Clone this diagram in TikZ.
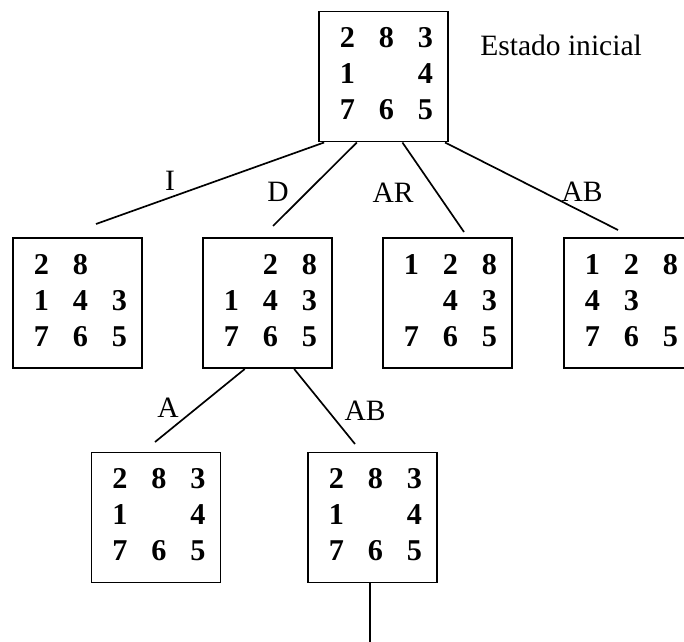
\documentclass[tikz,border=0pt]{standalone}
\usepackage{fontspec}
\setmainfont{Liberation Serif}
\setlength{\tabcolsep}{8.5pt}
\newcommand{\tablero}[3]{\begin{tabular}{@{\hspace{10.6pt}}ccc@{\hspace{6.4pt}}}#1\\#2\\#3\end{tabular}}
\begin{document}
\begin{tikzpicture}[
    estado/.style={draw, line width=1.4pt, minimum width=3.225cm, minimum height=3.25cm,
      inner sep=0pt, font=\fontsize{21.5}{25.6}\selectfont\bfseries},
    etiqueta/.style={font=\fontsize{21}{25}\selectfont, inner sep=0pt}]
      \useasboundingbox (0,0) rectangle (17.1,-16.025);
      % estados
      \node[estado] (ini) at (9.5875,-1.9125) {\tablero{2&8&3}{1&&4}{7&6&5}};
      \node[estado] (i) at (1.9375,-7.575) {\tablero{2&8&}{1&4&3}{7&6&5}};
      \node[estado] (d) at (6.6875,-7.575) {\tablero{&2&8}{1&4&3}{7&6&5}};
      \node[estado] (ar) at (11.1875,-7.575) {\tablero{1&2&8}{&4&3}{7&6&5}};
      \node[estado] (ab) at (15.7125,-7.575) {\tablero{1&2&8}{4&3&}{7&6&5}};
      \node[estado] (da) at (3.9,-12.9375) {\tablero{2&8&3}{1&&4}{7&6&5}};
      \node[estado] (dab) at (9.3125,-12.9375) {\tablero{2&8&3}{1&&4}{7&6&5}};
      \node[etiqueta, anchor=west] (txt) at (12.0,-1.125) {Estado inicial};
      % movimientos
      \node[etiqueta] (li) at (4.25,-4.525) {I};
      \node[etiqueta] (ld) at (6.95,-4.8) {D};
      \node[etiqueta] (lar) at (9.825,-4.825) {AR};
      \node[etiqueta] (lab) at (14.55,-4.8) {AB};
      \node[etiqueta] (lda) at (4.2,-10.2) {A};
      \node[etiqueta] (ldab) at (9.125,-10.275) {AB};
      % extremos libres
      \coordinate (ei) at (2.4,-5.6);
      \coordinate (ed) at (6.825,-5.65);
      \coordinate (ear) at (11.6,-5.8);
      \coordinate (eab) at (15.45,-5.75);
      \coordinate (eda) at (3.875,-11.05);
      \coordinate (edab) at (8.875,-11.1);
      \coordinate (cola) at (9.25,-16.2);
      \begin{scope}[line width=1.2pt]
        \draw (ini.228.3) -- (ei);
        \draw (ini.248.4) -- (ed);
        \draw (ini.286.8) -- (ear);
        \draw (ini.313.6) -- (eab);
        \draw (d.251.7) -- (eda);
        \draw (d.292.2) -- (edab);
        \draw (dab.south -| cola) -- (cola);
      \end{scope}
    \end{tikzpicture}
\end{document}
